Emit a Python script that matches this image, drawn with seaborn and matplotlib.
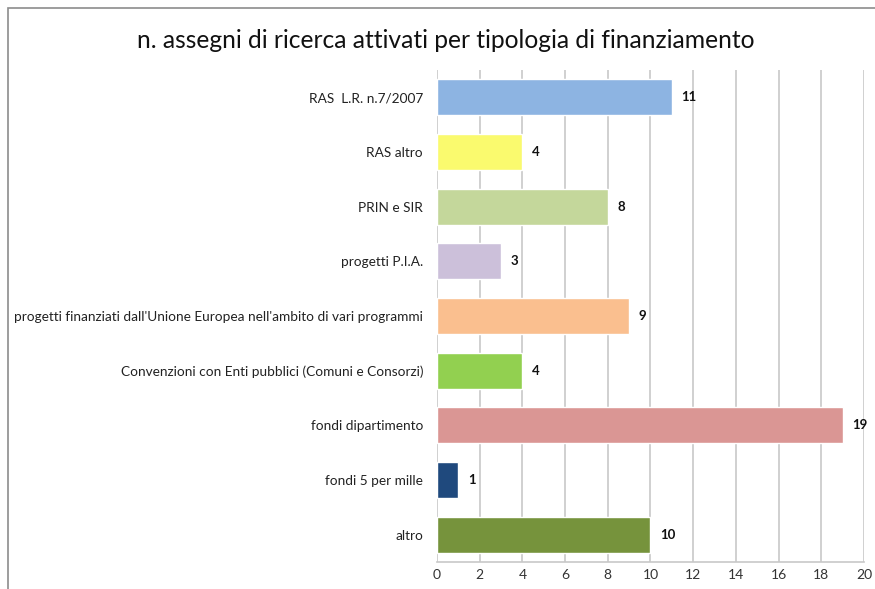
import matplotlib
matplotlib.use("Agg")
import matplotlib.pyplot as plt
import seaborn as sns
import pandas as pd
from matplotlib.patches import Rectangle

# Data
categories = [
    "RAS  L.R. n.7/2007",
    "RAS altro",
    "PRIN e SIR",
    "progetti P.I.A.",
    "progetti finanziati dall'Unione Europea nell'ambito di vari programmi",
    "Convenzioni con Enti pubblici (Comuni e Consorzi)",
    "fondi dipartimento",
    "fondi 5 per mille",
    "altro",
]
values = [11, 4, 8, 3, 9, 4, 19, 1, 10]
colors = ["#8DB4E2", "#FAFA6E", "#C4D79B", "#CCC0DA", "#FABF8F",
          "#92D050", "#DA9694", "#1F497D", "#76933C"]
xticks = list(range(0, 21, 2))

df = pd.DataFrame({"categoria": categories, "n": values})

sns.set_theme(style="white")
plt.rcParams["font.family"] = ["Lato", "DejaVu Sans"]

fig = plt.figure(figsize=(8.75, 5.89), dpi=100)
ax = fig.add_axes([0.4994, 0.0458, 0.4880, 0.8355])

sns.barplot(data=df, x="n", y="categoria", hue="categoria", palette=colors,
            legend=False, width=0.66, saturation=1, ax=ax)

ax.set_xlim(0, 20)
ax.set_xticks(xticks)
ax.set_xticklabels([str(t) for t in xticks], fontsize=10, color="#333333")
ax.tick_params(axis="x", length=0, pad=5)
ax.tick_params(axis="y", length=0, pad=10, labelsize=9.8, labelcolor="#222222")
ax.set_xlabel("")
ax.set_ylabel("")
ax.xaxis.grid(True, color="#C8C8C8", linewidth=1.2)
ax.set_axisbelow(True)
for s in ["top", "right", "left"]:
    ax.spines[s].set_visible(False)
ax.spines["bottom"].set_color("#C8C8C8")
ax.spines["bottom"].set_linewidth(1.2)

for i, v in enumerate(values):
    ax.annotate(str(v), xy=(v, i), xytext=(7, 0), textcoords="offset points",
                va="center", ha="left", fontsize=9.5, fontweight="bold",
                color="#111111")

fig.text(0.509, 0.932, "n. assegni di ricerca attivati per tipologia di finanziamento",
         ha="center", va="center", fontsize=17.7, color="#111111")

# chart area border
fig.patches.append(Rectangle((0.0095, -0.1), 1.2, 1.086, transform=fig.transFigure,
                             fill=False, edgecolor="#8C8C8C", linewidth=1.2))

fig.savefig("out.png", dpi=100)
